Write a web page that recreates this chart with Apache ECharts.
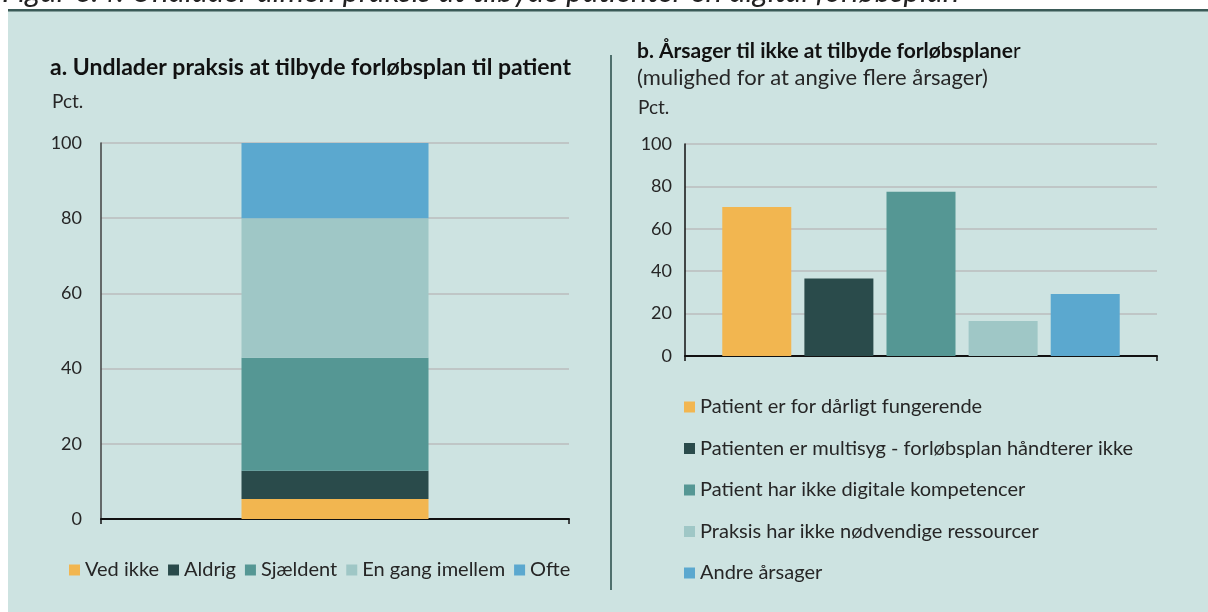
<!DOCTYPE html>
<html>
<head>
<meta charset="utf-8">
<script src="https://cdn.jsdelivr.net/npm/echarts@6/dist/echarts.min.js"></script>
<style>
  html, body { margin: 0; padding: 0; background: #fff; }
  #chart { width: 1208px; height: 612px; }
</style>
</head>
<body>
<div id="chart"></div>
<script>
// a. stacked bar (pct.)
var catA = ['Undlader'];
var namesA = ['Ved ikke', 'Aldrig', 'Sjældent', 'En gang imellem', 'Ofte'];
var valuesA = [5.3, 7.5, 30.1, 37.1, 20.0];

// b. reasons (pct.)
var catB = ['Årsager'];
var namesB = [
    'Patient er for dårligt fungerende',
    'Patienten er multisyg - forløbsplan håndterer ikke',
    'Patient har ikke digitale kompetencer',
    'Praksis har ikke nødvendige ressourcer',
    'Andre årsager'
];
var valuesB = [70.3, 36.6, 77.5, 16.5, 29.2];

var yTicks = [0, 20, 40, 60, 80, 100];

var colors = ['#F2B650', '#2A4B4B', '#559794', '#9FC7C6', '#5BA8CF'];
var font = 'Lato, "Noto Sans", sans-serif';
var textColor = '#262626';

var chart = echarts.init(document.getElementById('chart'));

var series = [];
// venstre figur - stablet søjle
for (var i = 0; i < namesA.length; i++) {
    series.push({
        name: namesA[i],
        type: 'bar',
        stack: 'a',
        xAxisIndex: 0,
        yAxisIndex: 0,
        barWidth: 187,
        data: [valuesA[i]],
        itemStyle: {color: colors[i]}
    });
}
// højre figur - én kategori, fem serier
for (var j = 0; j < namesB.length; j++) {
    series.push({
        name: namesB[j],
        type: 'bar',
        xAxisIndex: 1,
        yAxisIndex: 1,
        barWidth: 69,
        barGap: '19%',
        data: [valuesB[j]],
        itemStyle: {color: colors[j]}
    });
}

var yAxisBase = {
    type: 'value',
    min: yTicks[0],
    max: yTicks[yTicks.length - 1],
    interval: yTicks[1] - yTicks[0],
    axisLine: {show: true, lineStyle: {color: '#404040', width: 1.5}},
    axisTick: {show: false},
    splitLine: {show: true, lineStyle: {color: '#BFC6C6', width: 2}},
    axisLabel: {color: textColor, fontSize: 18, fontFamily: font}
};

var option = {
    animation: false,
    textStyle: {fontFamily: font, color: textColor},
    graphic: [
        {type: 'rect', shape: {x: 8, y: 11, width: 1200, height: 601}, style: {fill: '#CDE3E1'}, z: -10},
        {type: 'rect', shape: {x: 8, y: 9, width: 1200, height: 2.5}, style: {fill: '#3A5A57'}, z: -9},
        {type: 'text', x: 2, y: 7, style: {
            text: 'Figur 6.4: Undlader almen praksis at tilbyde patienter en digital forløbsplan',
            font: 'italic 31px ' + font, fill: '#222', verticalAlign: 'bottom'
        }},
        {type: 'rect', shape: {x: 610, y: 55, width: 2, height: 535}, style: {fill: '#4F706D'}}
    ],
    title: [
        {
            text: 'a. Undlader praksis at tilbyde forløbsplan til patient',
            left: 50, top: 57, padding: 0,
            textStyle: {fontSize: 23, fontWeight: 'bold', lineHeight: 22, color: '#111', fontFamily: font}
        },
        {
            text: 'Pct.',
            left: 52, top: 92, padding: 0,
            textStyle: {fontSize: 19, fontWeight: 'normal', lineHeight: 20, color: textColor, fontFamily: font}
        },
        {
            text: '{b|b. Årsager til ikke at tilbyde forløbsplane}{n|r}',
            left: 637, top: 40, padding: 0,
            textStyle: {
                lineHeight: 22,
                rich: {
                    b: {fontSize: 21, fontWeight: 'bold', color: '#111', fontFamily: font, lineHeight: 22},
                    n: {fontSize: 21, fontWeight: 'normal', color: '#111', fontFamily: font, lineHeight: 22}
                }
            }
        },
        {
            text: '(mulighed for at angive flere årsager)',
            left: 637, top: 67, padding: 0,
            textStyle: {fontSize: 22, fontWeight: 'normal', lineHeight: 22, color: textColor, fontFamily: font}
        },
        {
            text: 'Pct.',
            left: 638, top: 98, padding: 0,
            textStyle: {fontSize: 19, fontWeight: 'normal', lineHeight: 20, color: textColor, fontFamily: font}
        }
    ],
    legend: [
        {
            data: namesA,
            orient: 'horizontal',
            left: 69, top: 560, padding: 0,
            itemWidth: 11, itemHeight: 11, itemGap: 9,
            icon: 'rect',
            textStyle: {fontSize: 20, color: textColor, fontFamily: font, lineHeight: 20}
        },
        {
            data: namesB,
            orient: 'vertical',
            left: 684, top: 397, padding: 0,
            itemWidth: 11, itemHeight: 11, itemGap: 21.5,
            icon: 'rect',
            textStyle: {fontSize: 20, color: textColor, fontFamily: font, lineHeight: 20}
        }
    ],
    grid: [
        {left: 101, top: 143, width: 468, height: 376},
        {left: 685, top: 144, width: 472, height: 212}
    ],
    xAxis: [
        {
            type: 'category', gridIndex: 0, data: catA,
            axisLine: {lineStyle: {color: '#111', width: 2}},
            axisTick: {show: true, length: 5, lineStyle: {color: '#111', width: 1.5}},
            axisLabel: {show: false}
        },
        {
            type: 'category', gridIndex: 1, data: catB,
            axisLine: {lineStyle: {color: '#111', width: 2}},
            axisTick: {show: true, length: 5, lineStyle: {color: '#111', width: 1.5}},
            axisLabel: {show: false}
        }
    ],
    yAxis: [
        Object.assign({}, yAxisBase, {gridIndex: 0, axisLabel: Object.assign({}, yAxisBase.axisLabel, {margin: 19})}),
        Object.assign({}, yAxisBase, {gridIndex: 1, axisLine: {show: true, lineStyle: {color: '#111', width: 1.5}},
            axisLabel: Object.assign({}, yAxisBase.axisLabel, {margin: 13})})
    ],
    series: series
};

chart.setOption(option);
</script>
</body>
</html>
